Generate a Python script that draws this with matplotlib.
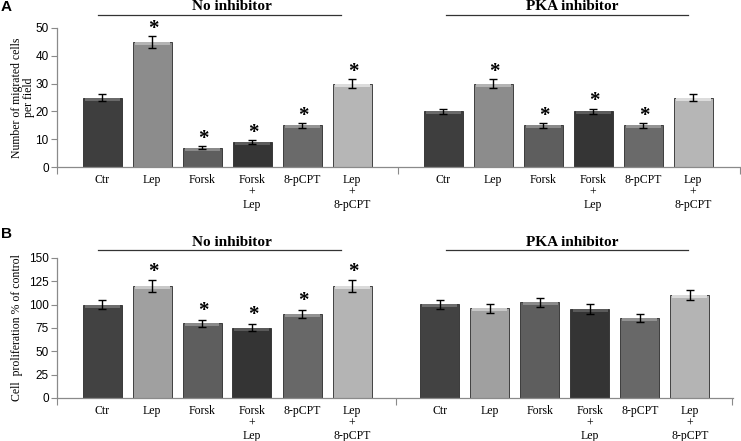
import matplotlib.pyplot as plt

plt.rcParams['font.family'] = 'Liberation Serif'

categories = ['Ctr', 'Lep', 'Forsk', 'Forsk\n+\nLep', '8-pCPT', 'Lep\n+\n8-pCPT']
groups = ['No inhibitor', 'PKA inhibitor']

# panel A: migrated cells per field
mig_no = [25, 45, 7, 9, 15, 30]
mig_no_err = [1.2, 2.2, 0.5, 0.6, 0.9, 1.5]
mig_no_star = [False, True, True, True, True, True]
mig_pka = [20, 30, 15, 20, 15, 25]
mig_pka_err = [0.8, 1.5, 0.8, 1.0, 0.8, 1.3]
mig_pka_star = [False, True, True, True, True, False]

# panel B: proliferation, % of control
prol_no = [100, 120, 80, 75.5, 90, 120]
prol_no_err = [5, 6, 3.5, 3.5, 4, 6]
prol_no_star = [False, True, True, True, True, True]
prol_pka = [100.5, 96, 102.5, 95.5, 85.5, 110]
prol_pka_err = [5, 5, 5, 5, 4, 5.5]
prol_pka_star = [False] * 6

colors_a = ['#3e3e3e', '#8c8c8c', '#5e5e5e', '#353535', '#6a6a6a', '#b6b6b6']
colors_b = ['#424242', '#a0a0a0', '#5e5e5e', '#343434', '#686868', '#b4b4b4']
hl_a = ['#6a6a6a', '#b4b4b4', '#8a8a8a', '#5c5c5c', '#949494', '#dcdcdc']
hl_b = ['#6e6e6e', '#c8c8c8', '#8a8a8a', '#5a5a5a', '#929292', '#dadada']

W, H = 741, 441
fig = plt.figure(figsize=(W / 100, H / 100), dpi=100)

axis_grey = '#8a8a8a'


def panel(rect, gap, xmax, vals, errs, stars, colors, hls, ymax, yticks, ylabel,
          star_off, hl_px, lpad):
    l, t, r, b = rect
    ax = fig.add_axes([l / W, 1 - b / H, (r - l) / W, (b - t) / H])
    xs_sets = [list(range(6)), [gap + i for i in range(6)]]
    for xs, v, e, s in zip(xs_sets, vals, errs, stars):
        ax.bar(xs, v, width=0.78, color=colors, edgecolor='#2a2a2a', linewidth=0.6, zorder=2)
        # light strip on top of each bar
        hl = hl_px * ymax / (b - t)
        ax.bar(xs, [hl] * 6, bottom=[x - hl for x in v], width=0.70, color=hls,
               linewidth=0, zorder=3)
        ax.errorbar(xs, v, yerr=e, fmt='none', ecolor='black', elinewidth=1,
                    capsize=3, capthick=1, zorder=4)
        for x, vv, ee, ss in zip(xs, v, e, s):
            if ss:
                ax.text(x + 0.02, vv + ee + star_off, '*', ha='center', va='center',
                        fontsize=15, fontweight='bold', zorder=5)
        for x, c in zip(xs, categories):
            ax.annotate(c, (x, 0), xycoords=('data', 'axes fraction'), xytext=(0, -5),
                        textcoords='offset points', ha='center', va='top',
                        fontsize=8.5, linespacing=1.05, annotation_clip=False)
    ax.set_xlim(-0.9, xmax)
    ax.set_ylim(0, ymax)
    ax.set_yticks(yticks)
    ax.set_yticklabels([str(y) for y in yticks], family='Liberation Sans', fontsize=8.5)
    ax.set_xticks([-0.9, (5 + gap) / 2, xmax - 0.01])
    ax.set_xticklabels([])
    ax.tick_params(axis='y', direction='out', length=4, color=axis_grey, pad=2)
    ax.tick_params(axis='x', direction='out', length=5, color=axis_grey)
    for sp in ['top', 'right']:
        ax.spines[sp].set_visible(False)
    for sp in ['left', 'bottom']:
        ax.spines[sp].set_color(axis_grey)
        ax.spines[sp].set_linewidth(0.9)
    ax.set_ylabel(ylabel, fontsize=8.5, labelpad=lpad, linespacing=1.1)
    ax.patch.set_alpha(0)
    return ax


def header(y_text, y_line):
    for name, xc, x0, x1 in zip(groups, [232, 572], [98, 446], [341, 688]):
        fig.text(xc / W, 1 - y_text / H, name, ha='center', va='center',
                 fontsize=11, fontweight='bold')
        fig.add_artist(plt.Line2D([x0 / W, x1 / W], [1 - y_line / H] * 2,
                                  color='#333333', linewidth=0.9))


panel((57, 28, 740, 167), 6.82, 12.76, [mig_no, mig_pka], [mig_no_err, mig_pka_err],
      [mig_no_star, mig_pka_star], colors_a, hl_a, 50, [0, 10, 20, 30, 40, 50],
      'Number of migrated cells\nper field', 2.6, 3, 0)
panel((57, 258, 733, 398), 6.76, 12.62, [prol_no, prol_pka], [prol_no_err, prol_pka_err],
      [prol_no_star, prol_pka_star], colors_b, hl_b, 150, [0, 25, 50, 75, 100, 125, 150],
      'Cell  proliferation % of control', 9.5, 3, 4)

header(6, 15)
header(242, 250)

fig.text(1 / W, 1 - 7 / H, 'A', ha='left', va='center', fontsize=11,
         fontweight='bold', family='Liberation Sans')
fig.text(1 / W, 1 - 234 / H, 'B', ha='left', va='center', fontsize=11,
         fontweight='bold', family='Liberation Sans')

fig.savefig('out.png', dpi=100, facecolor='white')
